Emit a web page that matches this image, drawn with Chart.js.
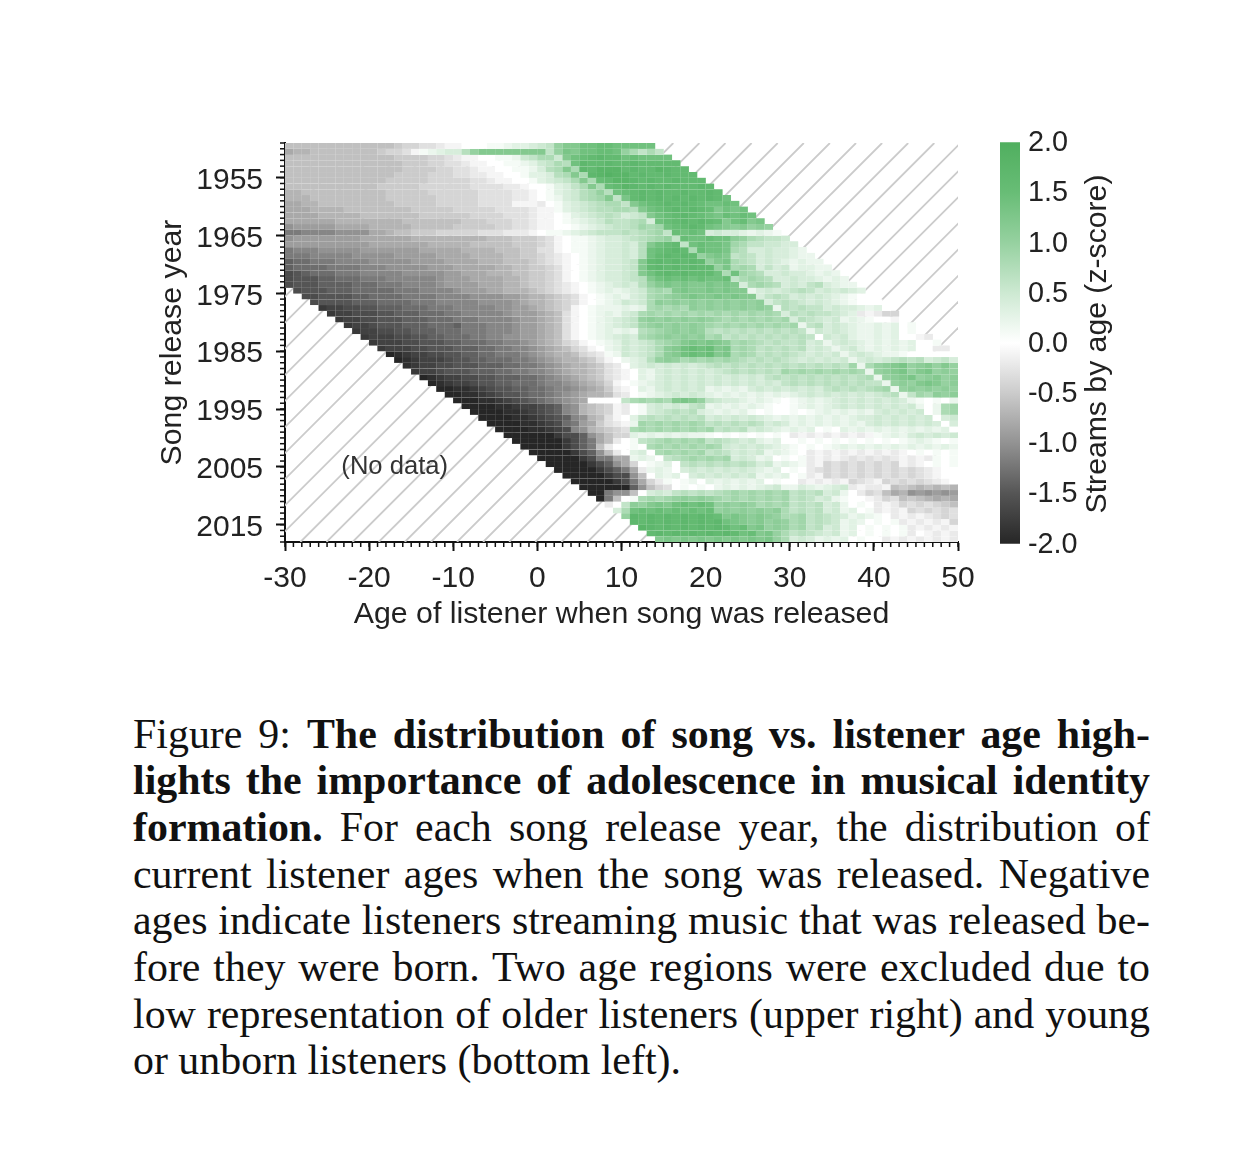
<!DOCTYPE html>
<html><head><meta charset="utf-8">
<script src="https://cdn.jsdelivr.net/npm/chart.js@4"></script>
<style>
html,body{margin:0;padding:0;background:#fff;width:1250px;height:1166px;overflow:hidden}
canvas{position:absolute}
#cap div{position:absolute;left:133px;width:1017px;font:41.9px/46px "Liberation Serif",serif;color:#111;text-align:justify;text-align-last:justify;white-space:nowrap}
#cap div.last{text-align-last:left}
</style></head><body>
<div style="position:absolute;left:0;top:0;width:1250px;height:660px"><canvas id="heat"></canvas></div>
<div style="position:absolute;left:1000px;top:117px;width:130px;height:452px"><canvas id="bar"></canvas></div>
<div id="cap">
<div style="top:711px"><span>Figure 9: </span><b>The distribution of song vs. listener age high-</b></div>
<div style="top:757px"><b>lights the importance of adolescence in musical identity</b></div>
<div style="top:804px"><b>formation.</b> For each song release year, the distribution of</div>
<div style="top:851px">current listener ages when the song was released. Negative</div>
<div style="top:897px">ages indicate listeners streaming music that was released be-</div>
<div style="top:944px">fore they were born. Two age regions were excluded due to</div>
<div style="top:991px">low representation of older listeners (upper right) and young</div>
<div class="last" style="top:1037px">or unborn listeners (bottom left).</div>
</div>
<script>
// z-score levels, one letter per cell: a=-2.0, A=-1.9, b=-1.8 ... k=0 ... u=2.0; '.' = no data
const levelLetters = "aAbBcCdDeEfFgGhHiIjJkKlLmMnNoOpPqQrRsStTu";
const levelValues = [-2,-1.9,-1.8,-1.7,-1.6,-1.5,-1.4,-1.3,-1.2,-1.1,-1,-0.9,-0.8,-0.7,-0.6,-0.5,-0.4,-0.3,-0.2,-0.1,0,0.1,0.2,0.3,0.4,0.5,0.6,0.7,0.8,0.9,1,1.1,1.2,1.3,1.4,1.5,1.6,1.7,1.8,1.9,2];
const firstYear = 1949;
const firstAge = -30;
const yearTicks = [1955,1965,1975,1985,1995,2005,2015];
const ageTicks = [-30,-20,-10,0,10,20,30,40,50];
const barTicks = [-2,-1.5,-1,-0.5,0,0.5,1,1.5,2];
const cellRows = [
"hhhhhhhhhh hhhHiiIIjJ JkkkKKlLLm MnpqqrrRRr rrrr",
"gGGhhhhhhh hHiiIJKlLm mNpqqqqqqq qnpQqrrRRr ponon",
"hhhhhhhhhh hhhHHHHiiI jJJkkKKlMn ooMqrRsSss rRrrrr",
"hhhhhhhhhh hhhhHHHiiI IjJJkkKKlL MnoNrSssSs sSsssss",
"hhhhhhhhhh hhhhHHHHii IIjJJkkKKl mNoqoSsttt sSsstSss",
"hhhhhhhhhh hhhHHHHiii IIjjJJkkKL LmNoqoStTt tsSssSsss",
"hhhhhhhhhh hhHHHHHiii iiIIjJJkkK LmMnoqoRst tSsSssSsss",
"hhhhhhhhhh hHHHHHiiii iiIIIIjjJk kKLmnoqoRs tSsSsSsssS s",
"GGhhhhhhhh hhHHHHHiii iiiIIIIjjJ kKLmMNopNr RsSsSssSss Ss",
"GGGhhhhhhh hhHHHHHHii iiiIIIIjjJ kKlmMNoOqn QsSsSsSsSs Ssr",
"ggGGhhhhhh hhhHHHHHii iiiIIIIJJJ jkKLmMnNoo nqrRsSsSsR rrRr",
"gggGGGGhhh hhhhhHHHHH iiiiiIIIIj JJKLmMnNNo oNqrRsSsSs RqrQr",
"ggggGGGGGh hhhhhhHHHH HHiiiiIIIj JJkKLmMnNn mMnqrRsSsR rQRrRr",
"ggggggGGGG GGGGhhhhhh hHHHiiiIIj JJkKlLmMNn nNomrRsSsS sRqrRqQ",
"fFFFFFgggg GGGGGhhhhh HHHHHiiIIj JJkkKlLmMn nNOoOrRsSs rQqPqpPp",
"eeEEEEffff ggGhhHHHii iiiIIIjjjJ kKKlLmMnnn NnNoOnRrRr mMmmLlLlK",
"fFFFFFFFFg gggggGGGGG GGGGhhhHHH iIJkKKlLmm MnNoOpnRrr RrrPpoNnnM",
"FFFFFFFFFF gggggggGGG GGhhhhhHHH iIJkKKlLmm MmNqrRsnrR rrQOonnMMm m",
"eEEEfffffF FFFFFFgggg gGGGGhhhHH IIJkKKlLmm MmNrRsSsoR rrQoNmmMmm Ll",
"eeeEEEEEff fffFFFFFgg ggGGGGhhHH iIjJkKlLmm MmNrsSsSsp qQqnNnmMmm Lll",
"dDDeeeEEEE fffffFFFFg gggGGGhhhH iIjJkKlLmm MnqsSsSsSs pqQoNnmMmL lLll",
"dDDDDeeeeE EEfffffFFF gggggGGhhH HiIJkKlLmm MnqsSsSsSs spQoOomnmM lLLll",
"cCdDDDeeeE EEEEfffffF FgggGGGhhH HiIJkKlLmm MnqrsSsSss srorOoNmmM mmLlLl",
"cCCCddDDDe eeEEEEEEfF FFggggGGhH HiIJkKlLmm MnNqrRrRrR rrRnoOoNmm MmmLlLl",
"cCCCddddDD DeeeEEEEfF FFFgggGGhH HiIjJkKlLm MmNpqQqQqq QqQqmoOoNm MmnNmLll",
".cCCCdddDD DDDeeeEEEE fFFFggGGGh HiIjJkKlLl LmMoOoqQqq QqQqqlmMmM nNnmMmMmL",
"..ccCCCCdd DDDDeeeeEE EEffffFFgG GhHiIJkKlL lmMoOpPqQq qQqQqqmnNn mMmMmLlKkk",
"...cCCCCdd dDDDDeeeEE EEEffffFgG GhHiIJkKlL MmMoPpPpPp PpPpPpPmnN nMmMmLlKkk k",
"....bBBccC CdddDDDeee EEEEEffFFg GhHiJkKlll LlLoOoOoPp PpPpPpPplN nNnnmMmmLl Lk",
".....bBBcc cCCdddDDDe eEEEEEfFFF gGhIJkKlLl mMoOoOoOoO oOoOoOoOom NnNnnMmLjJ jii",
"......bBBc cCCCdddDDD eeeEEEEfFF gGhIJkKlLm MnpPpPpPpP pOoOoOoOoO mNnMmMlLlK kkJk",
".......bBB cCCCdddDDD deeeEEEfFF gGhIJkKlLm MnOpPpPpPp OoOoOoOoOo OlnNmMmLll LlLkK",
"........bB BccCCdddDD DeeeEEEfFF gGhIJkKlLl LlNoOpPpPp NnNnNnNnNn NnlMmMmLll LlLkKk",
".........b BBBccCCddD DDeeEEffFF gGhIJkKlLm MmoOpPpPpP oOnNnNnNnN nNnkMmMLll LlLkkJj",
".......... bBBBccCCCd dDDDeeEEfF gGhiIJkKlL MmMnoOpqQq QqPoOoNnNn nNmMlmMmLl LlLlLkkK",
".......... .bBBBccCCC dddDDeeEEf FgGhiIJklL MmMnoPqrRr RqQoOonNnN nNmMmlmMLl LlLlLkkjj",
".......... ..aAbBBccC CddDDeeeEf FgGGhiIjKl MmMnoPqrRr RqQoOonNnN nMmMmMlmMm LllKkkkkkk",
".......... ...aAbBBBc CCddDDDeeE fFgGGhHIJk lLmNpPpoOo OoOoNnNnNn MmMmMmMlmM mMnNnNmMnm",
".......... ....AbBBcc CCCdddDDee EfFgGGhHIj kLmMmMmMmM nNnNnNnNnN nNnNnNnOlo pPqQpPqpqp",
".......... .....bBBcC CCdddDDeeE EfFgGGhHIj JkLlmMmMmM mMnNnNnNnO oOoOoOoOol pPqQpqQpPp",
".......... ......aAbB BccCCdddDD eEfFgGhHIj JkLlmMmMmM mMmMmMmnNn NnNnNnNnNo lpPqQpPqpP",
".......... .......aAb BBcCCddDDD eEEfFgGhiJ kKlLmMmMmM mMmMmMmMmn NnNnNnNnNn nlpPpqQqpP",
".......... ........aa AAbBcCCddD DeEEfFgGHj JkLlmMmMmM lLlLlmMmMm MmMmnNnNnN oOlpPpPpPp",
".......... .........a aAAbBcCCdD DeEfFgGGhI jkKlLmMmMm LlLlLlLlLl LmMmMmMmMm MnNlnOoPpP",
".......... .......... aaaAAbBcCd DeEfFgkkkk noOoOoqQqp nMmmLlLlKk KlLlLmMmMm MmMmlKkKkl",
".......... .......... .aaaaAAbBB cCdEfGhHiJ jkKmMmMmnN lLlLlLlKkk KlLlLmMmMm MmMmMlkloO",
".......... .......... ..aaaaAAbB cCdEfGhHiJ jkKmMnNnNm LlLlLKkKkk KkKlLlLlLl mMmMmMkloO",
".......... .......... ...aaaaAAb BcCdEfGhIJ kLnNnNnNnN mMmMmMmLlL lLlLlLlLmm MmMmMmMkmM",
".......... .......... ....aaaaAA bBcDeFgHIj JlOoOoOoOo nNnNnNnmMm lLlLlLlLlm MmMmMmMmkm",
".......... .......... .....aaaaA AbBcEfGhHi IoOoOoOoOo OnNnNmMmLl LlLkKkLlLl LlLlLlLlLk",
".......... .......... ......aaaa aabccdfghi iLlLlLlLll KkKkKkKkKk jJjJjJjJjJ KlLlmMmMmM",
".......... .......... .......aaa aaabcdeghj kKnNoOoOoO nNnMmMLlLk kKkKkKkKkK kKkKlLlKkK",
".......... .......... ........aa aaabcdehjk kKkoOoOoOo OoMmMmMmLl KkKkKlLlLl LlLlLlLlLl",
".......... .......... .........a aaaabcdfhj kLmkoOoOoO nNnmMmMlLl KkjJjJjJjJ jJjJkKkKkK",
".......... .......... .......... aaaaabceeg glLlknNoOo OoOmMmlLkK kKjJjJjIjI jIjJjJjKkK",
".......... .......... .......... .aaaaabcdf gikKlLknNn NnNnNnmMlL lKjJiIiIiI iIiJjJkKkK",
".......... .......... .......... ..aaaaabcd egjlLlkmMm MmMmMmLlLk KkjIiIiIiI iIiIiIjJkk",
".......... .......... .......... ...aaaaabc cfhkLlLkmM mMmMmMlLlL kKjJiIiIiI iIiIiIjJkk",
".......... .......... .......... ....aaaaab cegijKkKlk LlLlLlLkKk kjJjJjJiIj JiIiIiIjJk",
".......... .......... .......... .....aaaaa adfhiIkKkK klLlLlLmMl lmLlLmMjJj jJhHhGhGhG",
".......... .......... .......... ......aaef fhkmMmnNnN nNoOoOoOoO nNnNmMlkji IhgGfFfFfF",
".......... .......... .......... .......aeh kKoOoOpPpP pOoOoOoOoO nNnmMlKkkJ jiIhHhGgGg",
".......... .......... .......... ........jk nPpqQqrRrR rpPpPpoOoO nNnNmMlkKk jJjiIiIiHh",
".......... .......... .......... .........m orRrRrRrRr RpPpPpPpPo nNnNmMlLkK jJjJiIiIiI",
".......... .......... .......... .......... pSsSsSsSsS sRqQqPqPpo oOnNnMmlLl KkjJjJjIiI",
".......... .......... .......... .......... .SsSsSsSsS sSrQqPqpPp oOnNnMlLlk KkKjJjJjJi",
".......... .......... .......... .......... ..tSsSsSsS sSsrRqQpPp oOnNmMlLkK kKkKjJjJjJ",
".......... .......... .......... .......... ...sSsSsSs SsSsrRqQpo nNnMmMlLkK kKkKjkJjJj",
".......... .......... .......... .......... ....qQqQqQ qQqQqQqQpo mMmlLlLkKk kjJjJjJjJj"
];

// colour scale stops
const stopZ = [-2,-1.5,-1,-0.5,0,0.5,1,1.5,2];
const stopRGB = [[38,38,38],[85,85,85],[146,146,146],[203,203,203],[255,255,255],[205,233,210],[150,209,160],[104,189,118],[80,175,95]];
function rgbOf(z){
  let i=0; while(i<stopZ.length-2 && z>stopZ[i+1]) i++;
  const t=(z-stopZ[i])/(stopZ[i+1]-stopZ[i]);
  return stopRGB[i].map((v,k)=>v+(stopRGB[i+1][k]-v)*t);
}
function css(c){return `rgb(${Math.round(c[0])},${Math.round(c[1])},${Math.round(c[2])})`;}
function colorOf(z){return css(rgbOf(z));}
function seamOf(z){return css(rgbOf(z).map(v=>v+(255-v)*0.45));}
const datasets = cellRows.map((row,r)=>{
  const s=row.replace(/ /g,''), data=[], colors=[], seams=[];
  const year=firstYear+r;
  for(let c=0;c<s.length;c++){
    const k=levelLetters.indexOf(s[c]);
    if(k<0) continue;
    data.push({x:firstAge+c+0.5,y:[year,year+1]});
    colors.push(colorOf(levelValues[k]));
    seams.push(seamOf(levelValues[k]));
  }
  return {data,backgroundColor:colors,borderColor:seams,borderWidth:0.25,grouped:false,barPercentage:1,categoryPercentage:1};
});

const TEXT="#222", FONT='"Liberation Sans",Arial,sans-serif', FS=30;
const hatchPlugin={id:'hatch',beforeDatasetsDraw(ch){
  const a=ch.chartArea,g=ch.ctx;
  g.save();g.beginPath();g.rect(a.left,a.top,a.right-a.left,a.bottom-a.top);g.clip();
  g.strokeStyle="#cbcbcb";g.lineWidth=1.8;
  for(let s=816.3-26.1*30;s<816.3+26.1*30;s+=26.1){
    g.beginPath();g.moveTo(s-a.top,a.top);g.lineTo(s-a.bottom,a.bottom);g.stroke();
  }
  g.restore();
},afterDatasetsDraw(ch){
  const g=ch.ctx,x=ch.scales.x,y=ch.scales.y,a=ch.chartArea;
  g.save();g.strokeStyle="#111";g.lineWidth=1.5;
  for(let v=firstAge;v<=50;v++){const p=x.getPixelForValue(v);g.beginPath();g.moveTo(p,a.bottom);g.lineTo(p,a.bottom+5);g.stroke();}
  for(let v=firstYear;v<=2018;v++){const p=y.getPixelForValue(v);g.beginPath();g.moveTo(a.left,p);g.lineTo(a.left-5,p);g.stroke();}
  g.fillStyle="#333";g.font='25.6px '+FONT;g.textAlign="left";g.textBaseline="middle";
  g.fillText("(No data)",x.getPixelForValue(-23.3),y.getPixelForValue(2005));
  g.restore();
}};

new Chart(document.getElementById('heat'),{
  type:'bar',
  data:{datasets},
  plugins:[hatchPlugin],
  options:{
    responsive:true,maintainAspectRatio:false,animation:false,
    layout:{padding:{left:154,top:143,right:292,bottom:27}},
    plugins:{legend:{display:false},tooltip:{enabled:false}},
    events:[],
    scales:{
      x:{type:'linear',min:-30,max:50,offset:false,
        grid:{display:true,offset:false,drawOnChartArea:false,drawTicks:true,tickLength:9,tickWidth:2,tickColor:"#111"},
        border:{display:true,color:"#111",width:2},
        afterBuildTicks(s){s.ticks=ageTicks.map(v=>({value:v}));},
        afterFit(s){s.height=91;},
        ticks:{autoSkip:false,maxRotation:0,padding:10,color:TEXT,font:{family:FONT,size:FS},callback:v=>String(v)},
        title:{display:true,text:"Age of listener when song was released",color:TEXT,font:{family:FONT,size:30.3},padding:{top:0,bottom:0}}
      },
      y:{type:'linear',min:1949,max:2018,reverse:true,
        grid:{display:true,drawOnChartArea:false,drawTicks:true,tickLength:9,tickWidth:2,tickColor:"#111"},
        border:{display:true,color:"#111",width:2},
        afterBuildTicks(s){s.ticks=yearTicks.map(v=>({value:v}));},
        afterFit(s){s.width=131;},
        ticks:{autoSkip:false,padding:13,labelOffset:3,color:TEXT,font:{family:FONT,size:FS},callback:v=>String(v)},
        title:{display:true,text:"Song release year",color:TEXT,font:{family:FONT,size:30.3},padding:{top:0,bottom:0}}
      }
    }
  }
});

const barTitle={id:'barTitle',afterDraw(ch){
  const g=ch.ctx,a=ch.chartArea;
  g.save();g.translate(98,(a.top+a.bottom)/2+1);g.rotate(-Math.PI/2);
  g.fillStyle=TEXT;g.font='30.2px '+FONT;g.textAlign="center";g.textBaseline="middle";
  g.fillText("Streams by age (z-score)",0,0);g.restore();
}};
new Chart(document.getElementById('bar'),{
  type:'bar',
  data:{labels:[''],datasets:[{data:[[-2,2]],borderWidth:0,barPercentage:1,categoryPercentage:1,
    backgroundColor(ctx){
      const a=ctx.chart.chartArea; if(!a) return colorOf(2);
      const gr=ctx.chart.ctx.createLinearGradient(0,a.top,0,a.bottom);
      barTicks.slice().reverse().forEach((v,i)=>gr.addColorStop(i/8,colorOf(v)));
      return gr;
    }}]},
  plugins:[barTitle],
  options:{
    responsive:true,maintainAspectRatio:false,animation:false,events:[],
    layout:{padding:{left:0,top:0,right:0,bottom:0}},
    plugins:{legend:{display:false},tooltip:{enabled:false}},
    scales:{
      x:{display:false},
      y:{type:'linear',position:'right',min:-2,max:2,
        grid:{display:false,drawTicks:false},border:{display:false},
        afterBuildTicks(s){s.ticks=barTicks.map(v=>({value:v}));},
        afterFit(s){s.width=110;},
        ticks:{autoSkip:false,padding:8,labelOffset:1,color:TEXT,font:{family:FONT,size:28.8},callback:v=>v.toFixed(1)}
      }
    }
  }
});
</script>
</body></html>
